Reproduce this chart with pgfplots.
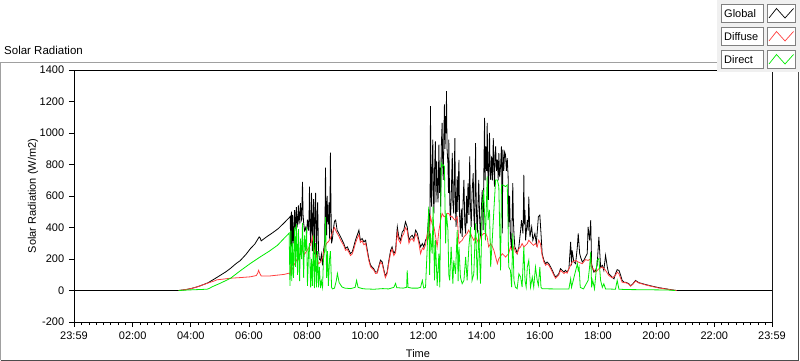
\documentclass[border=0pt]{standalone}
\usepackage{fontspec}
\setmainfont{Liberation Sans}
\usepackage{pgfplots}
\pgfplotsset{compat=1.18}
\definecolor{diffc}{RGB}{255,64,64}
\definecolor{dirc}{RGB}{0,235,0}
\definecolor{frameg}{RGB}{160,160,160}
\definecolor{legbg}{RGB}{240,240,240}
\begin{document}
\fontsize{11}{13}\selectfont
\begin{tikzpicture}[x=1pt,y=1pt]
\useasboundingbox (0,0) rectangle (800,361);
% outer frame
\draw[frameg] (0.5,0.5) -- (0.5,299) -- (717,299);
\draw[black!70] (0.5,0.5) -- (798.5,0.5) -- (798.5,289);
\node[anchor=base west,inner sep=0pt] at (4,306) {\fontsize{11.5}{13}\selectfont Solar Radiation};
\begin{axis}[
  at={(74pt,39pt)}, anchor=south west,
  scale only axis, width=698pt, height=252pt,
  xmin=-0.0167, xmax=23.983, ymin=-200, ymax=1400,
  axis line style={black, line width=0.9pt},
  tick align=outside, xtick pos=lower, ytick pos=left,
  major tick length=5pt, minor tick length=3pt,
  tick style={black, line width=0.8pt},
  xtick={-0.0167,2,4,6,8,10,12,14,16,18,20,22,23.983},
  xticklabels={23:59,02:00,04:00,06:00,08:00,10:00,12:00,14:00,16:00,18:00,20:00,22:00,23:59},
  minor xtick={0.25,0.5,...,23.75},
  ytick={-200,0,200,400,600,800,1000,1200,1400},
  yticklabels={-200,0,200,400,600,800,1000,1200,1400},
  ticklabel style={font=\fontsize{11}{13}\selectfont},
  xticklabel style={yshift=-1pt},
  yticklabel style={xshift=-1pt},
  clip=true,
]
\addplot[black, line width=0.8pt] coordinates {
(-0.02,0) (3.58,0) (3.8,5) (4.0,12) (4.2,22) (4.4,35) (4.6,50) (4.8,72) (5.0,95) (5.2,118) (5.36,140) (5.55,170) (5.7,190) (5.9,230) (6.05,266) (6.2,295) (6.3,325) (6.35,340) (6.38,335) (6.42,315) (6.6,340) (6.8,365) (7.0,392) (7.2,428) (7.38,462)
(7.42,470) (7.43,260) (7.44,420) (7.46,500) (7.47,280) (7.48,300) (7.50,480) (7.52,300) (7.53,330) (7.57,510) (7.58,380) (7.60,420) (7.63,530) (7.65,400) (7.67,430) (7.70,540) (7.72,420) (7.74,470) (7.77,555) (7.79,440) (7.81,450) (7.84,690) (7.86,480) (7.88,430) (7.91,380) (7.95,400) (7.98,360) (8.01,450) (8.05,380) (8.07,520) (8.08,660) (8.10,420) (8.12,300) (8.14,480) (8.15,620) (8.17,400) (8.18,250) (8.20,450) (8.22,580) (8.24,350) (8.25,230) (8.27,500) (8.29,620) (8.31,380) (8.32,210) (8.34,420) (8.36,560) (8.39,260) (8.42,200) (8.46,190) (8.49,230) (8.53,160) (8.56,250) (8.60,300) (8.62,550) (8.63,780) (8.65,480) (8.67,350) (8.69,600) (8.70,470) (8.73,420) (8.75,560) (8.77,330) (8.79,650) (8.80,875) (8.82,520) (8.84,300) (8.87,330) (8.91,400) (8.94,440) (8.98,447)
(9.03,383) (9.09,362) (9.15,340) (9.26,298) (9.32,266) (9.38,277) (9.49,234) (9.55,245) (9.60,277) (9.66,319) (9.72,351) (9.78,383) (9.83,319) (9.89,330) (9.95,309) (10.01,319) (10.07,255) (10.12,202) (10.18,160) (10.29,138) (10.35,117) (10.41,117) (10.52,192) (10.58,181) (10.64,128) (10.69,90) (10.75,117) (10.81,192) (10.87,255) (10.92,277) (10.98,234) (11.04,255) (11.10,404) (11.15,340) (11.21,319) (11.27,372) (11.32,383) (11.38,436) (11.44,404) (11.50,319) (11.55,340) (11.61,351) (11.67,330) (11.73,383) (11.79,362) (11.84,319) (11.90,277) (11.96,298) (12.01,277) (12.07,319) (12.13,340)
(12.18,489) (12.20,380) (12.21,320) (12.23,700) (12.24,1170) (12.26,600) (12.28,532) (12.30,820) (12.32,958) (12.34,600) (12.36,489) (12.38,760) (12.41,947) (12.43,560) (12.45,820) (12.47,702) (12.50,560) (12.53,926) (12.55,620) (12.57,780) (12.59,532) (12.61,900) (12.64,1064) (12.66,820) (12.68,702) (12.70,980) (12.72,1181) (12.74,900) (12.76,1107) (12.78,1000) (12.79,1266) (12.81,900) (12.84,809) (12.86,620) (12.87,958) (12.89,700) (12.91,520) (12.93,447) (12.96,640) (12.99,873) (13.01,560) (13.04,489) (13.06,780) (13.08,968) (13.10,520) (13.12,404) (13.14,600) (13.16,724) (13.18,500) (13.20,700) (13.22,830) (13.24,480) (13.27,362) (13.30,520) (13.33,340) (13.36,560) (13.39,702) (13.42,420) (13.45,362) (13.48,600) (13.50,426) (13.53,680) (13.56,480) (13.59,851) (13.61,560) (13.64,404) (13.67,620) (13.71,745) (13.73,480) (13.76,383) (13.79,936) (13.81,600) (13.83,450) (13.85,362) (13.88,580) (13.90,702) (13.93,460) (13.96,340) (13.99,520) (14.02,638) (14.05,383) (14.08,820) (14.10,1096) (14.12,700) (14.14,915) (14.17,760) (14.19,1064) (14.21,800) (14.23,575) (14.25,820) (14.27,1000) (14.29,760) (14.31,702) (14.34,851) (14.37,700) (14.40,968) (14.42,800) (14.44,660) (14.46,850)
(14.48,915) (14.51,760) (14.54,830) (14.57,700) (14.59,872) (14.62,720) (14.65,787) (14.68,915) (14.71,362) (14.73,894) (14.76,760) (14.79,880) (14.82,862) (14.85,760) (14.88,840) (14.91,723) (14.93,404) (14.96,600) (14.99,340) (15.03,255) (15.05,480) (15.07,681) (15.09,450) (15.11,362) (15.14,277) (15.19,255) (15.22,234) (15.28,277) (15.34,383) (15.37,447) (15.42,362) (15.44,560) (15.45,734) (15.47,420) (15.49,511) (15.51,319) (15.57,447) (15.60,380) (15.62,596) (15.66,340) (15.72,404) (15.76,319) (15.83,362) (15.88,298) (15.95,468) (16.00,479) (16.04,362) (16.08,234) (16.14,191) (16.20,170) (16.25,181) (16.31,170) (16.37,149) (16.43,128) (16.48,106) (16.54,85) (16.60,96) (16.65,106) (16.71,138) (16.77,128) (16.83,117) (16.88,128) (16.94,117) (17.00,138)
(17.06,309) (17.09,160) (17.11,255) (17.17,181) (17.23,170) (17.29,277) (17.32,362) (17.37,234) (17.40,213) (17.46,181) (17.51,191) (17.57,213) (17.63,234) (17.66,404) (17.71,319) (17.75,447) (17.78,170) (17.82,138) (17.86,117) (17.92,128) (17.97,160) (18.03,340) (18.09,149) (18.15,160) (18.20,128) (18.26,223) (18.32,149) (18.37,106) (18.43,96) (18.49,85) (18.55,74) (18.60,106) (18.66,132) (18.72,128) (18.78,96) (18.83,64) (18.89,53) (18.95,53) (19.06,43) (19.12,30) (19.19,40) (19.29,64) (19.40,50) (19.63,38) (19.87,27) (20.09,18) (20.32,11) (20.55,4) (20.70,0) (23.99,0)
};
\addplot[diffc, line width=0.8pt] coordinates {
(3.58,0) (3.8,5) (4.0,12) (4.2,22) (4.4,35) (4.6,48) (4.8,60) (4.9,68) (5.1,72) (5.36,78) (5.7,82) (6.05,87) (6.25,95) (6.3,110) (6.33,128) (6.37,110) (6.42,92) (6.7,92) (7.0,98) (7.2,102) (7.38,110) (7.42,100) (7.44,180) (7.47,130) (7.50,140) (7.57,170) (7.63,190) (7.70,220) (7.77,240) (7.84,255) (7.91,230) (7.98,250) (8.05,270) (8.12,290) (8.18,340) (8.25,250) (8.32,220) (8.39,170) (8.46,180) (8.53,210) (8.60,270) (8.67,300) (8.73,310) (8.80,330) (8.87,370) (8.94,400) (9.01,370)
(9.09,345) (9.15,320) (9.26,285) (9.32,255) (9.38,262) (9.49,222) (9.55,232) (9.60,260) (9.66,300) (9.72,330) (9.78,355) (9.83,305) (9.89,315) (9.95,290) (10.01,300) (10.07,240) (10.12,190) (10.18,150) (10.29,130) (10.35,108) (10.41,110) (10.52,180) (10.58,168) (10.64,120) (10.69,82) (10.75,108) (10.81,178) (10.87,240) (10.92,262) (10.98,222) (11.04,240) (11.10,370) (11.15,320) (11.21,300) (11.27,345) (11.32,360) (11.38,400) (11.44,380) (11.50,300) (11.55,322) (11.61,330) (11.67,312) (11.73,360) (11.79,340) (11.84,300) (11.90,234) (11.96,270) (12.01,260) (12.07,290)
(12.13,362) (12.18,330) (12.24,468) (12.30,420) (12.36,404) (12.41,350) (12.47,277) (12.53,380) (12.59,447) (12.64,489) (12.70,470) (12.76,468) (12.82,490) (12.87,489) (12.93,470) (12.99,468) (13.04,455) (13.08,447) (13.16,468) (13.22,298) (13.27,309) (13.33,319) (13.39,340) (13.50,362) (13.55,383) (13.62,362) (13.67,340) (13.73,319) (13.79,340) (13.85,319) (13.90,298) (13.96,340) (14.07,362) (14.14,362) (14.19,340) (14.24,277) (14.31,298) (14.37,277) (14.42,255) (14.48,213) (14.54,170) (14.59,202) (14.71,234) (14.82,213) (14.93,234) (14.99,277) (15.05,255) (15.11,277) (15.16,245) (15.22,234) (15.28,266) (15.34,277) (15.39,298) (15.45,277) (15.51,287) (15.57,298) (15.62,319) (15.72,298) (15.78,287) (15.85,298) (15.91,277) (15.96,319) (16.02,298) (16.08,223) (16.14,181)
(16.20,160) (16.25,170) (16.31,160) (16.37,140) (16.43,118) (16.48,98) (16.54,78) (16.60,88) (16.65,98) (16.71,128) (16.77,118) (16.83,108) (16.88,117) (16.94,110) (17.00,138) (17.11,181) (17.23,191) (17.32,181) (17.46,170) (17.57,196) (17.66,191) (17.75,202) (17.78,149) (17.92,117) (18.03,138) (18.15,149) (18.26,128) (18.37,96) (18.49,80) (18.60,96) (18.66,117) (18.72,106) (18.83,53) (18.89,50) (18.95,50) (19.06,40) (19.12,28) (19.19,38) (19.29,60) (19.40,48) (19.63,36) (19.87,25) (20.09,16) (20.32,10) (20.55,3) (20.70,0)
};
\addplot[dirc, line width=0.8pt] coordinates {
(3.58,0) (4.0,4) (4.55,8) (4.62,12) (4.75,25) (5.0,45) (5.36,77) (5.7,125) (6.05,172) (6.4,215) (6.7,250) (6.98,287) (7.2,330) (7.38,364) (7.41,30) (7.44,380) (7.47,60) (7.50,300) (7.53,80) (7.57,400) (7.60,150) (7.63,420) (7.67,100) (7.70,390) (7.74,60) (7.77,330) (7.81,200) (7.84,430) (7.88,80) (7.91,350) (7.95,250) (7.98,400) (8.01,30) (8.05,250) (8.08,300) (8.12,20) (8.15,200) (8.18,30) (8.22,350) (8.25,15) (8.29,300) (8.32,20) (8.36,250) (8.39,20) (8.42,150) (8.46,15) (8.49,60) (8.53,20) (8.56,200) (8.60,250) (8.63,466) (8.67,80) (8.70,250) (8.73,30) (8.77,200) (8.80,250) (8.84,20) (8.87,10) (8.94,15) (9.0,60) (9.04,108) (9.1,50) (9.2,22) (9.3,15) (9.5,12) (9.65,20) (9.70,64) (9.75,20) (9.9,12) (10.0,10) (10.3,8) (10.6,12) (10.8,10) (10.98,20) (11.04,45) (11.08,18) (11.3,15) (11.42,20) (11.44,128) (11.47,20) (11.6,15) (11.8,15) (11.9,20) (11.96,64) (12.01,15) (12.07,20)
(12.13,277) (12.18,532) (12.21,100) (12.24,362) (12.30,234) (12.33,532) (12.38,64) (12.41,319) (12.47,30) (12.53,234) (12.56,20) (12.61,809) (12.64,790) (12.68,798) (12.72,787) (12.76,300) (12.79,489) (12.84,383) (12.87,100) (12.90,64) (12.95,277) (13.01,43) (13.04,191) (13.10,106) (13.16,383) (13.19,60) (13.22,277) (13.27,85) (13.33,43) (13.39,64) (13.45,213) (13.50,64) (13.56,277) (13.62,404) (13.67,64) (13.73,106) (13.79,426) (13.85,64) (13.90,383) (13.96,43) (14.02,532) (14.07,638) (14.13,319) (14.19,724) (14.22,447) (14.27,511) (14.31,149) (14.37,340) (14.42,511) (14.48,702) (14.54,702) (14.59,660) (14.65,128) (14.68,670) (14.73,670) (14.82,660) (14.88,670) (14.91,400) (14.93,149) (14.99,128) (15.03,21) (15.07,362) (15.11,64) (15.16,21) (15.22,11) (15.28,106) (15.34,85) (15.39,21) (15.45,277) (15.49,64) (15.53,21) (15.57,149) (15.62,191) (15.68,21) (15.74,85) (15.79,21) (15.85,149) (15.91,64) (15.95,32) (16.00,149) (16.04,21) (16.08,11)
(16.5,10) (17.0,10) (17.06,74) (17.09,20) (17.29,170) (17.32,128) (17.35,149) (17.39,20) (17.5,10) (17.66,64) (17.71,149) (17.75,245) (17.78,20) (17.82,64) (17.88,10) (17.97,191) (18.03,202) (18.09,64) (18.15,20) (18.20,43) (18.26,10) (18.60,8) (18.66,64) (18.72,8) (19.0,6) (19.5,5) (20.0,4) (20.4,3) (20.66,0)
};
\draw[frameg, line width=1pt] (rel axis cs:1,0) -- (rel axis cs:1,1);
\end{axis}
\node[rotate=90] at (33,165) {Solar Radiation (W/m2)};
\node[anchor=base,inner sep=0pt] at (418,3.5) {Time};
% legend
\fill[legbg] (717,289) rectangle (800,361);
\foreach \yy/\lab/\col in {339/Global/black, 316/Diffuse/diffc, 293/Direct/dirc}{
  \draw[gray, fill=white] (721.5,\yy) rectangle (763.5,\yy+18);
  \node[anchor=base west, inner sep=0pt] at (724,\yy+4.5) {\lab};
  \draw[gray, fill=white] (767.5,\yy) rectangle (795.5,\yy+18);
  \draw[\col, line width=0.7pt] (769,\yy+4) -- (776.5,\yy+13.5) -- (785,\yy+4) -- (793.5,\yy+13.5);
}
\end{tikzpicture}
\end{document}
